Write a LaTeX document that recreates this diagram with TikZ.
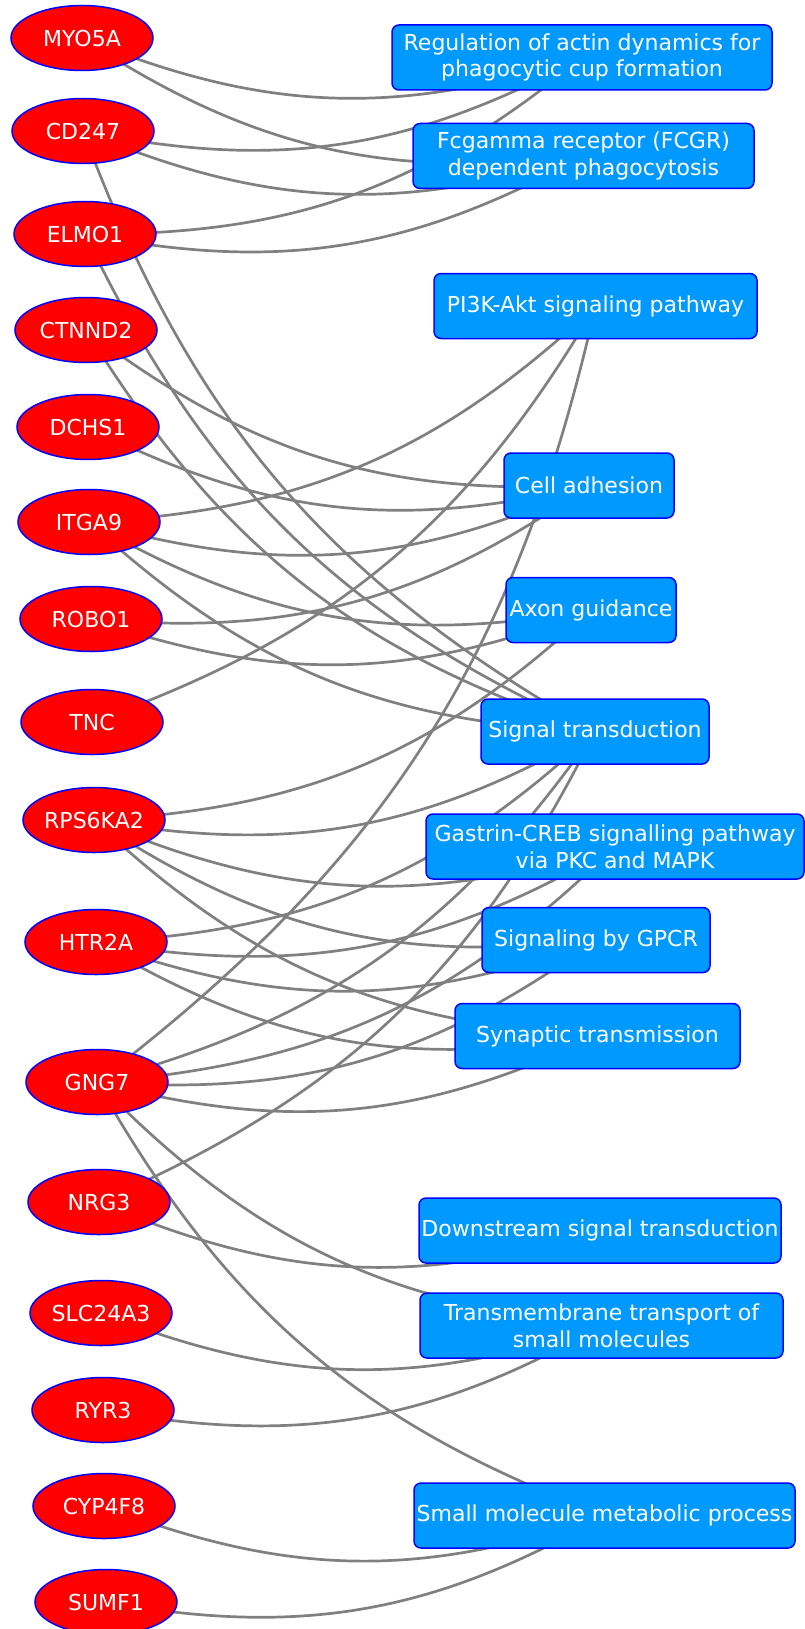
\documentclass[tikz,border=0pt]{standalone}
\usepackage{fontspec}
\setmainfont{DejaVu Sans}
\usetikzlibrary{shapes.geometric,backgrounds}
\definecolor{termblue}{RGB}{0,153,255}
\definecolor{linkgray}{RGB}{128,128,128}

\begin{document}
\begin{tikzpicture}[x=1pt,y=-1pt,
        gene/.style={ellipse,draw=blue,line width=1.5pt,fill=red,text=white,
            minimum width=142pt,minimum height=65pt,inner sep=0pt,
            font=\fontsize{22}{26.7}\selectfont},
        term/.style={rectangle,rounded corners=7pt,draw=blue,line width=1.5pt,
            fill=termblue,text=white,minimum height=65pt,inner sep=0pt,align=center,
            font=\fontsize{22}{26.7}\selectfont},
        link/.style={draw=linkgray,line width=2.7pt}]
        \useasboundingbox (0,0) rectangle (805,1629);

        \node[gene] (myo) at (82,38) {MYO5A};
        \node[gene] (cd) at (83,131) {CD247};
        \node[gene] (elmo) at (85,234) {ELMO1};
        \node[gene] (ctnnd) at (86,330) {CTNND2};
        \node[gene] (dchs) at (88,427) {DCHS1};
        \node[gene] (itga) at (89,522) {ITGA9};
        \node[gene] (robo) at (91,619) {ROBO1};
        \node[gene] (tnc) at (92,722) {TNC};
        \node[gene] (rps) at (94,820) {RPS6KA2};
        \node[gene] (htr) at (96,942) {HTR2A};
        \node[gene] (gng) at (97,1082) {GNG7};
        \node[gene] (nrg) at (99,1202) {NRG3};
        \node[gene] (slc) at (101,1313) {SLC24A3};
        \node[gene] (ryr) at (103,1410) {RYR3};
        \node[gene] (cyp) at (104,1506) {CYP4F8};
        \node[gene] (sumf) at (106,1602) {SUMF1};

        \node[term,minimum width=380pt] (actin) at (582,57.5) {Regulation of actin dynamics for\\phagocytic cup formation};
        \node[term,minimum width=341pt] (fcgr) at (583.5,156) {Fcgamma receptor (FCGR)\\dependent phagocytosis};
        \node[term,minimum width=323pt] (pik) at (595.5,306) {PI3K-Akt signaling pathway};
        \node[term,minimum width=170pt] (adh) at (589,485.5) {Cell adhesion};
        \node[term,minimum width=170pt] (axon) at (591,610) {Axon guidance};
        \node[term,minimum width=228pt] (sigt) at (595,731.5) {Signal transduction};
        \node[term,minimum width=378pt] (gastrin) at (615,846.5) {Gastrin-CREB signalling pathway\\via PKC and MAPK};
        \node[term,minimum width=228pt] (gpcr) at (596,940) {Signaling by GPCR};
        \node[term,minimum width=285pt] (synap) at (597.5,1036) {Synaptic transmission};
        \node[term,minimum width=362pt] (downs) at (600,1230.5) {Downstream signal transduction};
        \node[term,minimum width=363pt] (transm) at (601.5,1325.5) {Transmembrane transport of\\small molecules};
        \node[term,minimum width=381pt] (smallm) at (604.5,1515.5) {Small molecule metabolic process};

        \newcommand\GeneLink[2]{\draw[link] (#1.center) to[bend right=20] (#2.center);}
        \begin{pgfonlayer}{background}
            \GeneLink{myo}{actin}
            \GeneLink{myo}{fcgr}
            \GeneLink{cd}{actin}
            \GeneLink{cd}{fcgr}
            \GeneLink{cd}{sigt}
            \GeneLink{elmo}{actin}
            \GeneLink{elmo}{fcgr}
            \GeneLink{elmo}{sigt}
            \GeneLink{ctnnd}{adh}
            \GeneLink{ctnnd}{sigt}
            \GeneLink{dchs}{adh}
            \GeneLink{itga}{pik}
            \GeneLink{itga}{adh}
            \GeneLink{itga}{axon}
            \GeneLink{itga}{sigt}
            \GeneLink{robo}{adh}
            \GeneLink{robo}{axon}
            \GeneLink{tnc}{pik}
            \GeneLink{rps}{axon}
            \GeneLink{rps}{sigt}
            \GeneLink{rps}{gastrin}
            \GeneLink{rps}{gpcr}
            \GeneLink{rps}{synap}
            \GeneLink{htr}{sigt}
            \GeneLink{htr}{gastrin}
            \GeneLink{htr}{gpcr}
            \GeneLink{htr}{synap}
            \GeneLink{gng}{pik}
            \GeneLink{gng}{sigt}
            \GeneLink{gng}{gastrin}
            \GeneLink{gng}{gpcr}
            \GeneLink{gng}{synap}
            \GeneLink{gng}{transm}
            \GeneLink{gng}{smallm}
            \GeneLink{nrg}{sigt}
            \GeneLink{nrg}{downs}
            \GeneLink{slc}{transm}
            \GeneLink{ryr}{transm}
            \GeneLink{cyp}{smallm}
            \GeneLink{sumf}{smallm}
        \end{pgfonlayer}
    \end{tikzpicture}
\end{document}
